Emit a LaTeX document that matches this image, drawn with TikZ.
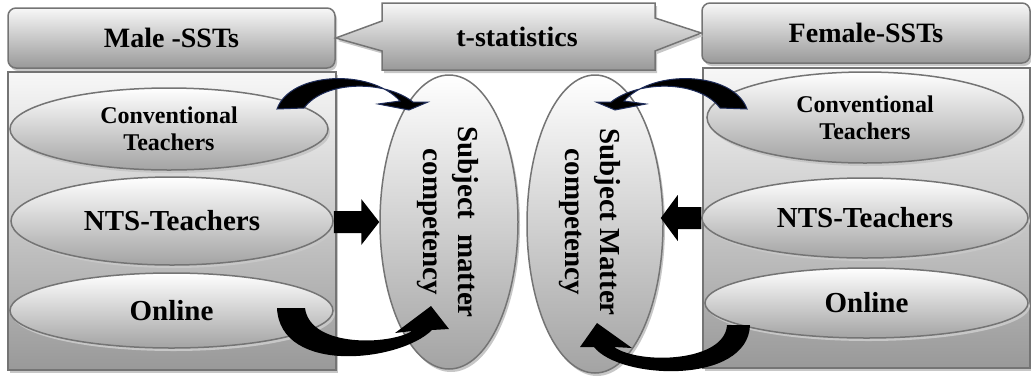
\documentclass[tikz,border=0pt]{standalone}
\usepackage{fontspec}
\setmainfont{Liberation Serif}
\usetikzlibrary{shapes.geometric,shadows,calc}
\definecolor{bord}{HTML}{747474}
\definecolor{navyline}{HTML}{1F2D5A}
\newcommand\hdrfont{\bfseries\fontsize{28}{32}\selectfont}
\newcommand\convfont{\bfseries\fontsize{24}{27}\selectfont}
\newcommand\ntsfont{\bfseries\fontsize{29}{33}\selectfont}
\newcommand\subfont{\bfseries\fontsize{29}{35}\selectfont}
\begin{document}
\begin{tikzpicture}[x=1pt,y=-1pt,
  shadowed/.style={drop shadow={shadow xshift=2pt,shadow yshift=-3pt,fill=black!22,opacity=1}},
  hdr/.style={draw=bord,line width=1.5pt,rounded corners=8pt,top color=black!3,bottom color=black!40,shadowed,inner sep=0pt,font=\hdrfont},
  panel/.style={draw=bord,line width=1.5pt,top color=black!3,bottom color=black!40,shadowed,inner sep=0pt},
  oval/.style={ellipse,draw=bord,line width=1.5pt,top color=white,bottom color=black!36,shadowed,inner sep=0pt,align=center},
  vtext/.style={rotate=-90,align=center,font=\subfont,inner sep=0pt},
  toparrow/.style={fill=black,draw=navyline,line width=1pt},
  botarrow/.style={fill=black}
]
\useasboundingbox (0,0) rectangle (1031,376);

% headers
\node[hdr,minimum width=327pt,minimum height=60pt] (male) at (171.5,38) {Male -SSTs};
\node[hdr,minimum width=328pt,minimum height=60pt] (female) at (866,33) {Female-SSTs};

% t-statistics callout
\path[draw=bord,line width=1.5pt,top color=black!3,bottom color=black!40,shadowed]
  (382,3) -- (655,3) -- (655,18) -- (female.west) -- (655,51) -- (655,70)
  -- (382,70) -- (382,51) -- (male.east) -- (382,21) -- cycle;
\node[font=\hdrfont,inner sep=0pt] (tstat) at (517,37) {t-statistics};

% panels
\node[panel,minimum width=328pt,minimum height=298pt] (lpanel) at (172,221) {};
\node[panel,minimum width=327pt,minimum height=300pt] (rpanel) at (866.5,218) {};

% left ovals
\node[oval,minimum width=318pt,minimum height=82pt,font=\convfont] (lconv) at (169,129) {Conventional\\Teachers};
\node[oval,minimum width=322pt,minimum height=88pt,font=\ntsfont] (lnts) at (172,221) {NTS-Teachers};
\node[oval,minimum width=323pt,minimum height=75pt,font=\ntsfont] (lonl) at (171.5,310.5) {Online};

% right ovals
\node[oval,minimum width=316pt,minimum height=91pt,font=\convfont] (rconv) at (865,117.5) {Conventional\\Teachers};
\node[oval,minimum width=326pt,minimum height=80pt,font=\ntsfont] (rnts) at (865,218) {NTS-Teachers};
\node[oval,minimum width=323pt,minimum height=70pt,font=\ntsfont] (ronl) at (866.5,303) {Online};

% central ovals
\node[oval,minimum width=138pt,minimum height=294pt] (lsub) at (449,222) {};
\node[vtext] (lsubtxt) at (448,222) {Subject\ \ matter\\competency};
\node[oval,minimum width=136pt,minimum height=298pt] (rsub) at (595,224) {};
\node[vtext] (rsubtxt) at (590,222) {Subject Matter\\competency};

% straight block arrows
\coordinate (la1) at (lnts.east |- lsub.center);
\coordinate (la2) at (lsub.west);
\fill[black] ($(la1)+(0,-11)$) -- ($(la2)+(-18,-11)$) -- ($(la2)+(-18,-23)$) -- (la2)
  -- ($(la2)+(-18,23)$) -- ($(la2)+(-18,11)$) -- ($(la1)+(0,11)$) -- cycle;
\coordinate (ra1) at (rnts.west);
\coordinate (ra2) at ($(rsub.east |- rnts.west)+(-3,0)$);
\fill[black] ($(ra1)+(0,-11)$) -- ($(ra2)+(17,-11)$) -- ($(ra2)+(17,-23)$) -- (ra2)
  -- ($(ra2)+(17,23)$) -- ($(ra2)+(17,11)$) -- ($(ra1)+(0,11)$) -- cycle;

% curved block arrows
\filldraw[toparrow] (277,109) .. controls (290,72) and (370,68) .. (400,101)
  -- (378,104) -- (409,110) -- (428,102) -- (413,102)
  .. controls (385,80) and (325,80) .. (304,108) -- cycle;
\filldraw[toparrow] (747,109) .. controls (734,72) and (654,68) .. (624,101)
  -- (646,104) -- (615,110) -- (596,102) -- (611,102)
  .. controls (639,80) and (699,80) .. (720,108) -- cycle;
\fill[botarrow] (277,308) .. controls (280,375) and (400,362) .. (432,330)
  -- (449,329) -- (431,306) -- (395,333) -- (412,331)
  .. controls (390,345) and (310,348) .. (305,308) -- cycle;
\fill[botarrow] (750,325) .. controls (748,385) and (620,380) .. (594,347)
  -- (580,347) -- (597,323) -- (632,348) -- (614,347)
  .. controls (640,365) and (725,362) .. (727,325) -- cycle;
\end{tikzpicture}
\end{document}
